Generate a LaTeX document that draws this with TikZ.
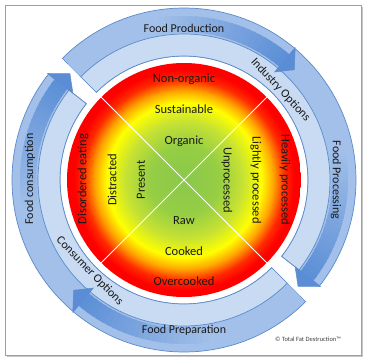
\documentclass[tikz,border=0pt]{standalone}
\usepackage{fontspec}
\setmainfont{Carlito}
\definecolor{ringline}{HTML}{5B8BC9}
\definecolor{medb}{HTML}{A2C0E9}
\definecolor{lightb}{HTML}{C9DBF3}
\definecolor{darkb}{HTML}{5A8DD6}
\definecolor{wG}{HTML}{8AC74C}
\definecolor{wGb}{HTML}{96CE44}
\definecolor{wYG}{HTML}{C6E233}
\definecolor{wY}{HTML}{FFFF00}
\definecolor{wO}{HTML}{FFA800}
\definecolor{wR}{HTML}{FF2A00}
\definecolor{wRR}{HTML}{FF0000}
\pgfdeclareradialshading{wheel}{\pgfpoint{0bp}{0bp}}{color(0bp)=(wG); color(7.5bp)=(wGb); color(12.5bp)=(wYG); color(16.5bp)=(wY); color(19bp)=(wO); color(21.5bp)=(wR); color(23.5bp)=(wRR); color(50bp)=(wRR)}
% annular sector: start angle, end angle, inner r, outer r, options
\newcommand\annsec[5]{\path[#5] (#1:#4) arc[start angle=#1, end angle=#2, radius=#4] -- (#2:#3) arc[start angle=#2, end angle=#1, radius=#3] -- cycle;}
% graded dark stripe in the outer lane: start angle, head base angle
\newcommand\stripe[2]{%
  \foreach \i in {0,...,39}{%
    \pgfmathsetmacro\aa{#1+(#2-#1)*\i/40}%
    \pgfmathsetmacro\ab{#1+(#2-#1)*(\i+1.4)/40}%
    \pgfmathtruncatemacro\pp{max(0,min(100,(\i/40-0.4)/0.6*100))}%
    \fill[darkb!\pp!medb] (\aa:148) arc[start angle=\aa, end angle=\ab, radius=148] -- (\ab:164) arc[start angle=\ab, end angle=\aa, radius=164] -- cycle;
  }}
% arrow head: base angle, tip angle
\newcommand\arrhead[2]{\filldraw[fill=darkb, draw=ringline, line width=0.5bp, line join=miter] (#1:148) -- (#1:141) -- (#2:156) -- (#1:173) -- (#1:164);}
\tikzset{
  ringlbl/.style={font=\fontsize{12bp}{14bp}\selectfont, text=black!90, inner sep=0pt},
  disklbl/.style={font=\fontsize{12.5bp}{15bp}\selectfont, text=black!90, inner sep=0pt},
}
\begin{document}
\begin{tikzpicture}[x=1bp,y=1bp]
\useasboundingbox (-184,-182) rectangle (185,180);
% frame with shadow
\draw[gray!45, line width=1.6bp] (-177,-176.2) -- (178.2,-176.2) -- (178.2,173);
\draw[gray!75, line width=0.8bp] (-179,175) rectangle (177,-175);
% ---- half B (bottom / left) ----
\annsec{-45}{-218}{124}{172}{fill=medb, draw=ringline, line width=0.7bp}
\annsec{-45}{-218}{124}{146}{fill=lightb, draw=ringline, line width=0.7bp}
\stripe{-45}{-130}
\stripe{-135}{-218}
\arrhead{-130}{-135}
\arrhead{-218}{-223}
% ---- half A (top / right) ----
\annsec{135}{-38}{124}{172}{fill=medb, draw=ringline, line width=0.7bp}
\annsec{135}{-38}{124}{146}{fill=lightb, draw=ringline, line width=0.7bp}
\stripe{135}{50}
\stripe{45}{-38}
\arrhead{50}{45}
\arrhead{-38}{-43}
% ---- coloured disk ----
\shade[shading=wheel] (0,0) circle[radius=117];
\coordinate (d1) at (135:117);
\coordinate (d2) at (45:117);
\coordinate (d3) at (-45:117);
\coordinate (d4) at (-135:117);
\draw[white, line width=1bp] (d1) -- (d3);
\draw[white, line width=1bp] (d2) -- (d4);
% disk labels
\node[disklbl] (nonorg) at (0,101) {Non-organic};
\node[disklbl] (sust) at (0,71) {Sustainable};
\node[disklbl] (org) at (0,39) {Organic};
\node[disklbl] (raw) at (0,-41) {Raw};
\node[disklbl] (cook) at (0,-71) {Cooked};
\node[disklbl] (over) at (0,-101) {Overcooked};
\node[disklbl, rotate=-90] (unproc) at (43,0) {Unprocessed};
\node[disklbl, rotate=-90] (light) at (72,0) {Lightly processed};
\node[disklbl, rotate=-90] (heavy) at (101,0) {Heavily processed};
\node[disklbl, rotate=90] (pres) at (-43,0) {Present};
\node[disklbl, rotate=90] (distr) at (-72,0) {Distracted};
\node[disklbl, rotate=90] (disord) at (-101,1) {Disordered eating};
% ring labels
\node[ringlbl] (fprod) at (0,152) {Food Production};
\node[ringlbl, rotate=-90] (fproc) at (152,0) {Food Processing};
\node[ringlbl] (fprep) at (0,-150) {Food Preparation};
\node[ringlbl, rotate=90] (fcons) at (-154,1) {Food consumption};
\node[ringlbl, rotate=-47] (indopt) at (43:132) {Industry Options};
\node[ringlbl, rotate=-46] (consopt) at (-136:131) {Consumer Options};
% copyright
\node[font=\fontsize{6.5bp}{8bp}\selectfont, text=black!75, inner sep=0pt] (copy) at (124,-159) {© Total Fat Destruction™};
\end{tikzpicture}
\end{document}
